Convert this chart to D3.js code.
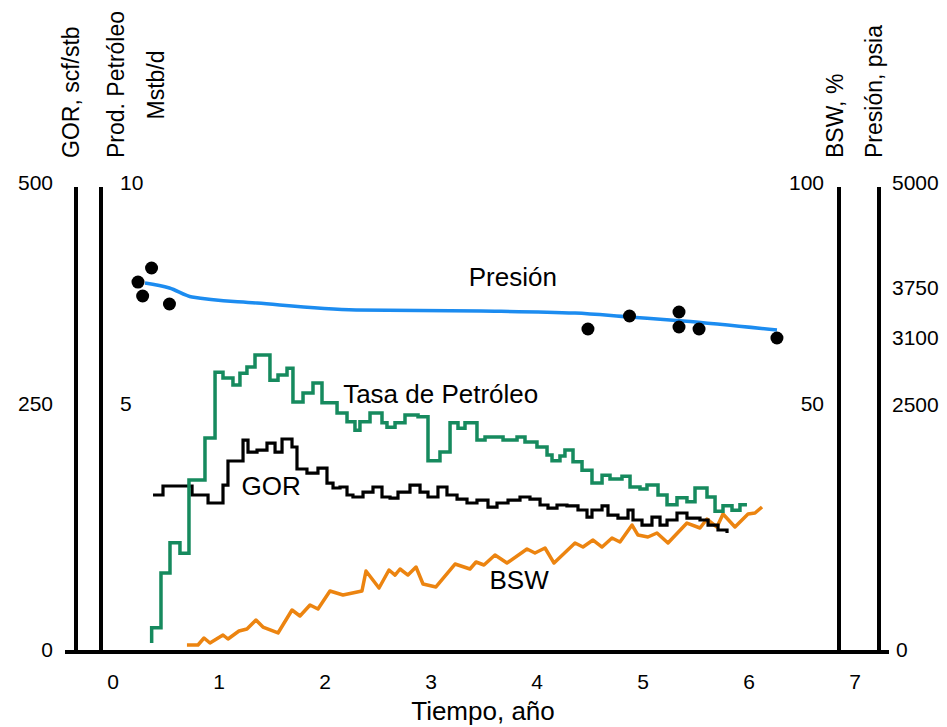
<!DOCTYPE html>
<html>
<head>
<meta charset="utf-8">
<script src="https://cdn.jsdelivr.net/npm/d3@7"></script>
<style>
  body { margin: 0; background: #fff; }
  svg text { font-family: "Liberation Sans", Arial, sans-serif; fill: #000; }
</style>
</head>
<body>
<div id="chart"></div>
<script>
// time in years

// oil rate, Mstb/d (step line)
const rateT = [0.393, 0.393, 0.481, 0.566, 0.660, 0.745, 0.896, 0.991, 1.066, 1.160, 1.226, 1.292, 1.368, 1.509, 1.585, 1.670, 1.726, 1.821, 1.915, 2.000, 2.142, 2.236, 2.311, 2.358, 2.453, 2.566, 2.613, 2.689, 2.783, 2.906, 3.000, 3.113, 3.208, 3.283, 3.349, 3.462, 3.538, 3.708, 3.840, 3.915, 4.028, 4.123, 4.170, 4.245, 4.292, 4.368, 4.453, 4.547, 4.642, 4.717, 4.830, 4.906, 5.000, 5.066, 5.170, 5.255, 5.349, 5.443, 5.519, 5.632, 5.708, 5.783, 5.868, 5.943, 6.009];
const rateV = [0.18, 0.49, 1.60, 2.21, 2.00, 3.48, 4.33, 5.74, 5.61, 5.45, 5.72, 5.86, 6.13, 5.56, 5.68, 5.83, 5.07, 5.27, 5.50, 5.05, 4.84, 4.66, 4.49, 4.66, 4.84, 4.64, 4.55, 4.64, 4.80, 4.76, 3.87, 4.05, 4.64, 4.53, 4.64, 4.29, 4.35, 4.29, 4.35, 4.25, 4.15, 3.99, 3.87, 3.97, 4.09, 3.85, 3.68, 3.42, 3.58, 3.50, 3.56, 3.34, 3.30, 3.38, 3.18, 2.98, 3.12, 3.04, 3.32, 3.14, 2.85, 2.96, 2.87, 2.98, 2.98];

// GOR, scf/stb (step line)
const gorT = [0.406, 0.500, 0.774, 0.925, 1.066, 1.113, 1.255, 1.302, 1.387, 1.481, 1.557, 1.623, 1.717, 1.764, 1.858, 1.962, 2.047, 2.104, 2.170, 2.236, 2.292, 2.387, 2.481, 2.566, 2.642, 2.717, 2.830, 2.925, 3.000, 3.094, 3.179, 3.274, 3.368, 3.462, 3.566, 3.651, 3.755, 3.868, 3.962, 4.057, 4.132, 4.217, 4.311, 4.415, 4.500, 4.547, 4.642, 4.698, 4.792, 4.887, 4.934, 5.019, 5.113, 5.189, 5.255, 5.349, 5.443, 5.566, 5.642, 5.736, 5.821];
const gorV = [158.9, 168.0, 158.9, 150.8, 169.0, 193.3, 214.5, 202.4, 204.4, 211.5, 202.4, 215.6, 207.5, 185.2, 181.1, 186.2, 171.0, 166.0, 167.0, 158.9, 156.9, 161.9, 167.0, 156.9, 155.8, 161.9, 169.0, 161.9, 156.9, 167.0, 158.9, 154.8, 150.8, 153.8, 146.7, 150.8, 153.8, 156.9, 154.8, 148.8, 145.7, 148.8, 147.8, 143.7, 136.6, 143.7, 147.8, 138.6, 135.6, 143.7, 133.6, 128.5, 136.6, 128.5, 133.6, 140.7, 135.6, 133.6, 128.5, 123.5, 120.5];

// BSW, %
const bswT = [0.726, 0.830, 0.887, 0.943, 1.066, 1.113, 1.217, 1.292, 1.377, 1.443, 1.585, 1.717, 1.792, 1.887, 1.962, 2.075, 2.198, 2.377, 2.415, 2.538, 2.632, 2.689, 2.736, 2.811, 2.887, 2.953, 3.075, 3.255, 3.396, 3.453, 3.528, 3.632, 3.745, 3.934, 4.009, 4.104, 4.189, 4.387, 4.462, 4.557, 4.642, 4.736, 4.811, 4.925, 4.981, 5.075, 5.160, 5.264, 5.443, 5.566, 5.632, 5.726, 5.783, 5.896, 6.019, 6.085, 6.151];
const bswV = [1.42, 1.42, 2.83, 1.82, 3.44, 2.63, 4.25, 4.66, 6.48, 5.06, 3.85, 8.50, 7.29, 9.51, 8.70, 12.35, 11.54, 12.35, 16.39, 12.95, 16.60, 15.58, 16.80, 15.58, 17.20, 13.76, 13.16, 17.81, 16.80, 18.22, 17.61, 19.63, 18.01, 20.85, 20.04, 21.05, 18.01, 22.06, 21.25, 22.67, 21.25, 23.07, 22.26, 25.70, 23.68, 23.28, 24.09, 22.06, 26.11, 25.10, 26.92, 25.30, 27.93, 25.30, 27.93, 28.13, 29.35];

// pressure, psia: fitted line and measured points
const presT = [0.330, 0.561, 0.774, 1.387, 2.321, 3.500, 4.387, 4.896, 5.406, 6.292];
const presV = [3810, 3750, 3633, 3555, 3464, 3451, 3425, 3373, 3321, 3204];
const ptsT = [0.264, 0.308, 0.392, 0.561, 4.509, 4.901, 5.368, 5.368, 5.557, 6.292];
const ptsV = [3821, 3646, 3988, 3542, 3217, 3386, 3438, 3243, 3217, 3100];

const xTicks = [0, 1, 2, 3, 4, 5, 6, 7];
const gorTicks = [0, 250, 500];
const rateTicks = [5, 10];
const bswTicks = [50, 100];
const presTicks = [0, 2500, 3100, 3750, 5000];

const width = 947, height = 727;
const y0 = 652, yMid = 405, yTop = 184;

const svg = d3.select("#chart").append("svg")
  .attr("width", width)
  .attr("height", height);

const x = d3.scaleLinear().domain([0, 7]).range([110, 852]);
// axes in the picture are not evenly spaced, so use piecewise scales
const yGor = d3.scaleLinear().domain([0, 250, 500]).range([y0, yMid, yTop]);
const yRate = d3.scaleLinear().domain([0, 5, 10]).range([y0, yMid, yTop]);
const yBsw = d3.scaleLinear().domain([0, 50, 100]).range([y0, yMid, yTop]);
const yPres = d3.scaleLinear().domain([0, 2500, 3100, 3750, 5000]).range([650, 405, 338, 288, 183]);

// frame: four vertical axes and the baseline
const axisX = [76, 101, 839, 879];
svg.append("g").selectAll("line")
  .data(axisX)
  .enter().append("line")
    .attr("x1", d => d).attr("x2", d => d)
    .attr("y1", 187).attr("y2", y0)
    .attr("stroke", "#000").attr("stroke-width", 4);

svg.append("line")
  .attr("x1", 65).attr("x2", 889)
  .attr("y1", y0).attr("y2", y0)
  .attr("stroke", "#000").attr("stroke-width", 4);

// tick labels
const tickSize = "21px";
svg.append("g").selectAll("text")
  .data(xTicks)
  .enter().append("text")
    .attr("x", d => x(d) + 3)
    .attr("y", 682)
    .attr("dy", "0.35em")
    .attr("text-anchor", "middle")
    .style("font-size", tickSize)
    .text(d => d);

svg.append("g").selectAll("text")
  .data(gorTicks)
  .enter().append("text")
    .attr("x", 53)
    .attr("y", d => d === 0 ? 650 : yGor(d) - 1)
    .attr("dy", "0.35em")
    .attr("text-anchor", "end")
    .style("font-size", tickSize)
    .text(d => d);

svg.append("g").selectAll("text")
  .data(rateTicks)
  .enter().append("text")
    .attr("x", 120)
    .attr("y", d => yRate(d) - 1)
    .attr("dy", "0.35em")
    .style("font-size", tickSize)
    .text(d => d);

svg.append("g").selectAll("text")
  .data(bswTicks)
  .enter().append("text")
    .attr("x", 824)
    .attr("y", d => yBsw(d) - 1)
    .attr("dy", "0.35em")
    .attr("text-anchor", "end")
    .style("font-size", tickSize)
    .text(d => d);

svg.append("g").selectAll("text")
  .data(presTicks)
  .enter().append("text")
    .attr("x", d => d === 0 ? 896 : 892)
    .attr("y", d => yPres(d))
    .attr("dy", "0.35em")
    .style("font-size", tickSize)
    .text(d => d);

// axis titles (rotated)
function vTitle(tx, ty, anchor, txt) {
  svg.append("text")
    .attr("transform", "translate(" + tx + "," + ty + ") rotate(-90)")
    .attr("text-anchor", anchor)
    .style("font-size", "23px")
    .text(txt);
}
vTitle(79, 158, "start", "GOR, scf/stb");
vTitle(124, 158, "start", "Prod. Petróleo");
vTitle(164, 85, "middle", "Mstb/d");
vTitle(843, 158, "start", "BSW, %");
vTitle(882, 158, "start", "Presión, psia");

svg.append("text")
  .attr("x", 483).attr("y", 720)
  .attr("text-anchor", "middle")
  .style("font-size", "26px")
  .text("Tiempo, año");

// series
const rateData = rateT.map((t, i) => [t, rateV[i]]);
const gorData = gorT.map((t, i) => [t, gorV[i]]);
const bswData = bswT.map((t, i) => [t, bswV[i]]);
const presData = presT.map((t, i) => [t, presV[i]]);
const ptsData = ptsT.map((t, i) => [t, ptsV[i]]);

const stepLine = yS => d3.line()
  .x(d => x(d[0]))
  .y(d => yS(d[1]))
  .curve(d3.curveStepAfter);

svg.append("path")
  .datum(bswData)
  .attr("fill", "none")
  .attr("stroke", "#ec8410")
  .attr("stroke-width", 3.5)
  .attr("stroke-linejoin", "round")
  .attr("d", d3.line().x(d => x(d[0])).y(d => yBsw(d[1])));

svg.append("path")
  .datum(gorData)
  .attr("fill", "none")
  .attr("stroke", "#000")
  .attr("stroke-width", 3.2)
  .attr("d", stepLine(yGor));

svg.append("path")
  .datum(rateData)
  .attr("fill", "none")
  .attr("stroke", "#168a5e")
  .attr("stroke-width", 3.5)
  .attr("d", stepLine(yRate));

svg.append("path")
  .datum(presData)
  .attr("fill", "none")
  .attr("stroke", "#1c8cf0")
  .attr("stroke-width", 3.5)
  .attr("d", d3.line().x(d => x(d[0])).y(d => yPres(d[1])).curve(d3.curveMonotoneX));

svg.append("g").selectAll("circle")
  .data(ptsData)
  .enter().append("circle")
    .attr("cx", d => x(d[0]))
    .attr("cy", d => yPres(d[1]))
    .attr("r", 6.5)
    .attr("fill", "#000");

// series labels
const seriesLabels = [
  { txt: "Presión", t: 3.80, v: 3880 },
  { txt: "Tasa de Petróleo", t: 3.12, v: 5.25 },
  { txt: "GOR", t: 1.52, v: 168 },
  { txt: "BSW", t: 3.86, v: 14.5 }
];
const labelY = { "Presión": yPres, "Tasa de Petróleo": yRate, "GOR": yGor, "BSW": yBsw };
svg.append("g").selectAll("text")
  .data(seriesLabels)
  .enter().append("text")
    .attr("x", d => x(d.t))
    .attr("y", d => labelY[d.txt](d.v))
    .attr("dy", "0.35em")
    .attr("text-anchor", "middle")
    .style("font-size", "26px")
    .text(d => d.txt);
</script>
</body>
</html>
